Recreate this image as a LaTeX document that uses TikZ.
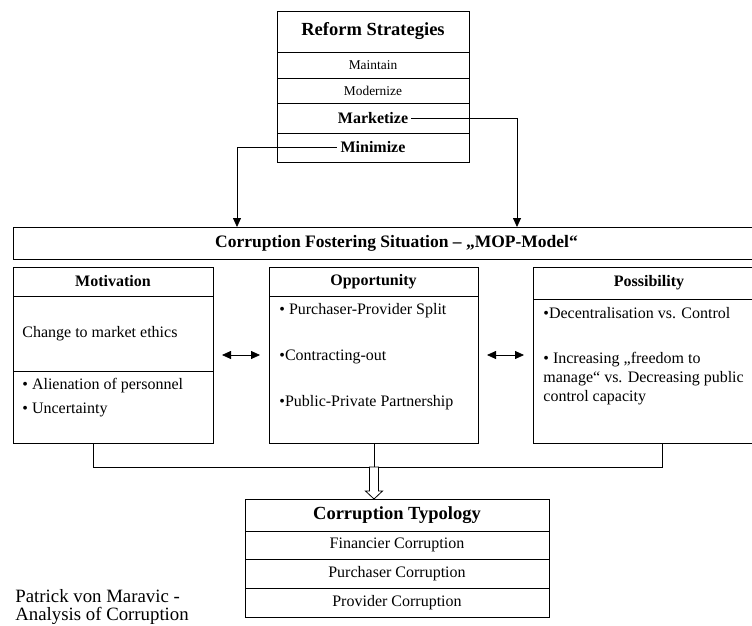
\documentclass[tikz,border=0pt]{standalone}
\usepackage{fontspec}
\setmainfont{Liberation Serif}
\usetikzlibrary{positioning,arrows.meta}

\begin{document}
\begin{tikzpicture}[
				x=1pt, y=-1pt,
				line width=0.8pt,
				>={Triangle[length=9pt,width=8pt]}]
			\tikzstyle{box}=[draw,rectangle,inner sep=0,outer sep=0,font=\fontsize{16}{19}\selectfont]
			\tikzstyle{head box}=[box,font=\bfseries\fontsize{18.5}{22}\selectfont]
			\tikzstyle{small box}=[box,font=\fontsize{13.4}{16}\selectfont]
			\tikzstyle{bold box}=[box,font=\bfseries\fontsize{16}{19}\selectfont]
			\tikzstyle{item}=[anchor=west,inner sep=0,align=left,font=\fontsize{16}{19}\selectfont]
			\tikzstyle{flow}=[->]
			\tikzstyle{link}=[<->,shorten <=9pt,shorten >=9pt]
			\clip (0,0) rectangle (752,626);
			% reform strategies
			\node[head box,minimum width=192,minimum height=41] (reform) at (373,31.5) {Reform Strategies};
			\node[small box,minimum width=192,minimum height=26,below=0pt of reform] (maintain) {Maintain};
			\node[small box,minimum width=192,minimum height=25,below=0pt of maintain] (modernize) {Modernize};
			\node[box,minimum width=192,minimum height=30,below=0pt of modernize] (marketrow) {};
			\node[bold box,draw=none,inner sep=3pt] (marketize) at (marketrow) {Marketize};
			\node[box,minimum width=192,minimum height=29,below=0pt of marketrow] (minirow) {};
			\node[bold box,draw=none,inner sep=4pt] (minimize) at (minirow) {Minimize};
			% mop model
			\node[head box,font=\bfseries\fontsize{17.5}{21}\selectfont,minimum width=767,minimum height=32] (mop) at (396.5,243) {Corruption Fostering Situation – „MOP-Model“};
			\coordinate (inL) at (237,227);
			\coordinate (inR) at (517,227);
			\draw[flow] (marketize.east) -| (inR);
			\draw[flow] (minimize.west) -| (inL);
			% motivation
			\node[box,minimum width=200,minimum height=176] (motivation) at (113,355) {};
			\node[bold box,minimum width=200,minimum height=29,anchor=north] (motivhead) at (motivation.north) {Motivation};
			\node[box,minimum width=200,minimum height=72,anchor=south] (motivlow) at (motivation.south) {};
			\node[item] (ethics) at (22,334) {Change to market ethics};
			\node[item] (alien) at (22,386) {• Alienation of personnel};
			\node[item] (uncert) at (22,410) {• Uncertainty};
			% opportunity
			\node[box,minimum width=209,minimum height=176] (opportunity) at (373.5,355) {};
			\node[bold box,minimum width=209,minimum height=29,anchor=north] (opphead) at (opportunity.north) {Opportunity};
			\node[item] (split) at (279,311) {• Purchaser-Provider Split};
			\node[item] (contract) at (279,357) {•Contracting-out};
			\node[item] (ppp) at (279,403) {•Public-Private Partnership};
			% possibility
			\node[box,minimum width=232,minimum height=176] (possibility) at (649,355) {};
			\node[bold box,minimum width=232,minimum height=32,anchor=north] (posshead) at (possibility.north) {Possibility};
			\node[item] (decentral) at (543,313) {•Decentralisation vs. Control};
			\node[item] (freedom) at (543,379) {• Increasing „freedom to\\manage“ vs. Decreasing public\\control capacity};
			\draw[link] (motivation.east) -- (opportunity.west);
			\draw[link] (opportunity.east) -- (possibility.west);
			% typology
			\node[head box,minimum width=304,minimum height=32] (typology) at (397,515) {Corruption Typology};
			\node[box,minimum width=304,minimum height=28,below=0pt of typology] (financier) {Financier Corruption};
			\node[box,minimum width=304,minimum height=29,below=0pt of financier] (purchaser) {Purchaser Corruption};
			\node[box,minimum width=304,minimum height=29,below=0pt of purchaser] (provider) {Provider Corruption};
			\coordinate (jm) at (93,467);
			\coordinate (jo) at (374,467);
			\coordinate (jp) at (662,467);
			\draw (motivation.south -| jm) -- (jm) -- (jp) -- (possibility.south -| jp);
			\draw (opportunity.south -| jo) -- (jo);
			% hollow arrow down to the typology
			\draw[fill=white] (jo) ++(-4.5,0) -- ++(0,24) -- ++(-4,0) -- (typology.north -| jo)
				-- ++(8.5,-8) -- ++(-4,0) -- ++(0,-24) -- cycle;
			\node[anchor=north west,inner sep=0,align=left,font=\fontsize{18.8}{18}\selectfont] (author) at (15,589) {Patrick von Maravic -\\Analysis of Corruption};
		\end{tikzpicture}
\end{document}
